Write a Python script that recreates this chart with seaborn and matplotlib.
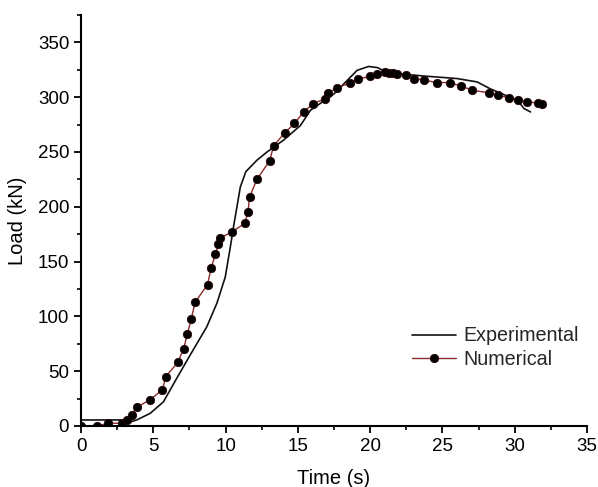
import numpy as np
import pandas as pd
import matplotlib.pyplot as plt
from matplotlib.ticker import MultipleLocator
import seaborn as sns

# Curva experimental
exp_t = [0, 2.7, 3.0, 3.85, 4.78, 5.7, 6.6, 7.55, 8.7, 9.4, 9.98, 10.33, 10.55,
         11.02, 11.4, 12.17, 12.87, 14.0, 15.17, 15.87, 17.5, 19.1, 19.9, 20.5,
         21.2, 23.7, 26.0, 27.4, 28.3, 30.2, 30.65, 31.1]
exp_load = [5.5, 5.5, 2, 5.5, 11.5, 22, 43, 64.7, 90.5, 112, 136, 163.4, 181.7,
            218, 232, 242.5, 250, 260.7, 274, 288, 303, 324.5, 328, 327,
            322.4, 319.3, 317, 313.9, 307.7, 297, 289.6, 286.5]

# Curva numérica
num_t = [0, 1.09, 1.9, 2.82, 3.16, 3.5, 3.85, 4.78, 5.63, 5.86, 6.69, 7.09, 7.36,
         7.62, 7.9, 8.75, 9.0, 9.29, 9.51, 9.63, 10.44, 11.32, 11.55, 11.66,
         12.17, 13.05, 13.32, 14.09, 14.76, 15.4, 16.05, 16.9, 17.1, 17.7,
         18.6, 19.15, 19.98, 20.5, 21.0, 21.3, 21.6, 21.88, 22.45, 23.07,
         23.76, 24.64, 25.5, 26.27, 27.08, 28.2, 28.85, 29.6, 30.2, 30.84,
         31.6, 31.9]
num_load = [0, 0, 2.5, 2.5, 5.5, 10, 17, 24, 33, 45, 58, 70, 84,
            97.5, 113, 129, 144, 156.5, 166, 171.6, 177, 184.8, 195.4, 209,
            225, 242, 255.5, 267.4, 276, 286.5, 294, 298.7, 303.8, 308.4,
            313, 316.3, 319, 321.5, 322.8, 322.4, 322.2, 321.5, 320, 317,
            315.4, 313.3, 313.3, 310.2, 306.3, 304, 301.7, 299.5, 297, 296,
            294.5, 293.5]

df_exp = pd.DataFrame({'Time': exp_t, 'Load': exp_load})
df_num = pd.DataFrame({'Time': num_t, 'Load': num_load})

sns.set_style("ticks")
plt.rcParams['font.family'] = ['Liberation Sans', 'DejaVu Sans']

fig = plt.figure(figsize=(5.98, 4.87), dpi=100)
ax = fig.add_axes([0.1355, 0.1253, 0.846, 0.844])

sns.lineplot(data=df_exp, x='Time', y='Load', sort=False, ax=ax,
             color='#111111', linewidth=1.2, label='Experimental')
sns.lineplot(data=df_num, x='Time', y='Load', sort=False, ax=ax,
             color='#8b2a2a', linewidth=1.0, marker='o', markersize=6,
             markerfacecolor='black', markeredgecolor='#2a0505',
             markeredgewidth=0.6, label='Numerical')

ax.set_xlim(0, 35)
ax.set_ylim(0, 375)
ax.set_yticks(np.arange(0, 351, 50))
ax.xaxis.set_major_locator(MultipleLocator(5))
ax.xaxis.set_minor_locator(MultipleLocator(2.5))
ax.yaxis.set_minor_locator(MultipleLocator(25))
ax.tick_params(axis='both', which='major', direction='out', length=5,
               width=1.3, labelsize=13.5, color='black', labelcolor='black')
ax.tick_params(axis='both', which='minor', direction='out', length=3,
               width=1.2, color='black')
for s in ['left', 'bottom']:
    ax.spines[s].set_linewidth(1.5)
    ax.spines[s].set_color('black')
sns.despine(ax=ax)

ax.set_xlabel('Time (s)', fontsize=14.5, labelpad=10, color='black')
ax.set_ylabel('Load (kN)', fontsize=14.5, labelpad=8, color='black')

ax.legend(loc='center left', bbox_to_anchor=(0.62, 0.19), frameon=False,
          fontsize=14.2, handlelength=2.2, handletextpad=0.4,
          labelspacing=0.25)

plt.savefig('out.png', dpi=100)
